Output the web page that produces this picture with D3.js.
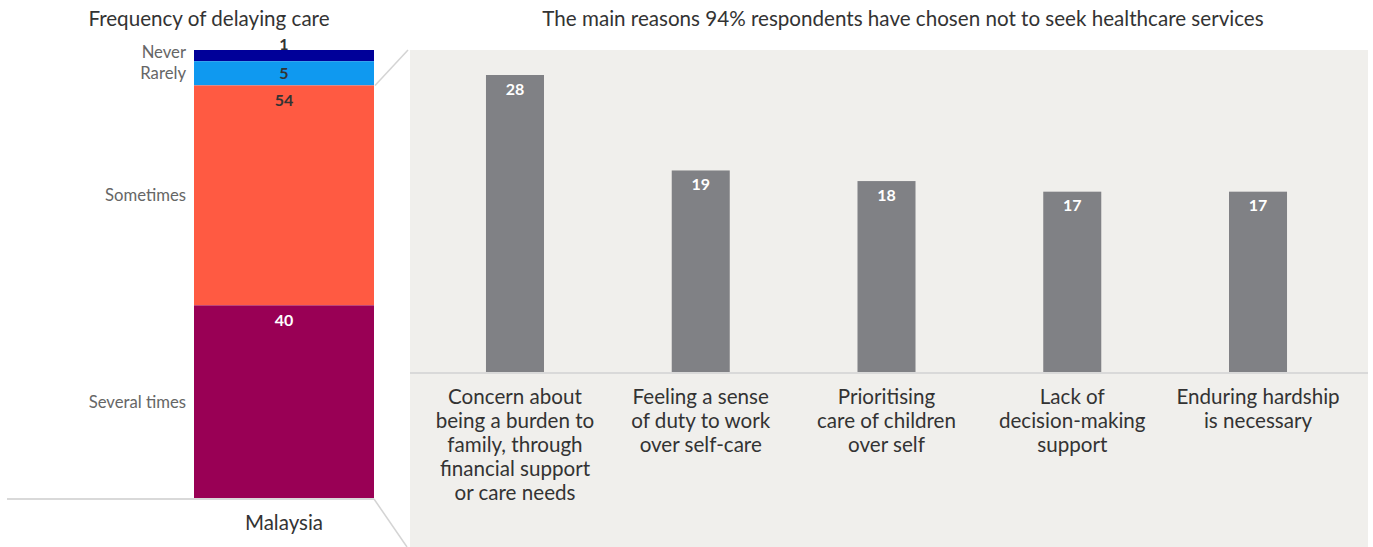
<!DOCTYPE html>
<html>
<head>
<meta charset="utf-8">
<script src="https://cdn.jsdelivr.net/npm/d3@7"></script>
<style>
  html, body { margin: 0; padding: 0; background: #ffffff; }
  svg { display: block; font-family: Lato, "Noto Sans", sans-serif; }
</style>
</head>
<body>
<svg id="chart" width="1373" height="547"></svg>
<script>
// ---- Data ----
const leftTitle = "Frequency of delaying care";
const rightTitle = "The main reasons 94% respondents have chosen not to seek healthcare services";
const countryLabel = "Malaysia";

const frequencyCategories = ["Never", "Rarely", "Sometimes", "Several times"];
const frequencyLabels = ["1", "5", "54", "40"];
// segment sizes as drawn in the picture (share of bar height, %)
const frequencyShares = [2.5, 5.4, 49.1, 43.0];
const frequencyColors = ["#000099", "#0f99f0", "#ff5a42", "#990055"];
const frequencyTextColors = ["#333333", "#333333", "#333333", "#ffffff"];

const reasonCategories = [
  ["Concern about", "being a burden to", "family, through", "financial support", "or care needs"],
  ["Feeling a sense", "of duty to work", "over self-care"],
  ["Prioritising", "care of children", "over self"],
  ["Lack of", "decision-making", "support"],
  ["Enduring hardship", "is necessary"]
];
const reasonValues = [28, 19, 18, 17, 17];

// ---- Drawing ----
const svg = d3.select("#chart");

// Right panel background
const panel = { x0: 410, x1: 1368, y0: 50, y1: 547 };
svg.append("rect")
  .attr("x", panel.x0).attr("y", panel.y0)
  .attr("width", panel.x1 - panel.x0).attr("height", panel.y1 - panel.y0)
  .attr("fill", "#f0efec");

// Titles
svg.append("text").attr("x", 209).attr("y", 26)
  .attr("text-anchor", "middle").attr("font-size", 20.6).attr("fill", "#333")
  .text(leftTitle);
svg.append("text").attr("x", 903).attr("y", 26)
  .attr("text-anchor", "middle").attr("font-size", 20.6).attr("fill", "#333")
  .text(rightTitle);

// ---- Left stacked bar ----
const barX0 = 194, barX1 = 374;
const yL = d3.scaleLinear().domain([0, 100]).range([50, 498]);
let cum = 0;
const segs = frequencyCategories.map((c, i) => {
  const s = { cat: c, label: frequencyLabels[i], start: cum, end: cum + frequencyShares[i], i };
  cum += frequencyShares[i];
  return s;
});

const gL = svg.append("g");
gL.selectAll("rect.seg").data(segs).join("rect")
  .attr("class", "seg")
  .attr("x", barX0).attr("width", barX1 - barX0)
  .attr("y", d => yL(d.start))
  .attr("height", d => yL(d.end) - yL(d.start))
  .attr("fill", d => frequencyColors[d.i]);

// Value labels
gL.selectAll("text.val").data(segs).join("text")
  .attr("class", "val")
  .attr("x", (barX0 + barX1) / 2)
  .attr("y", d => {
    const top = yL(d.start), h = yL(d.end) - yL(d.start);
    if (h < 15) return top - 6;
    if (h < 40) return top + h / 2;
    return top + 15;
  })
  .attr("dy", "0.35em")
  .attr("text-anchor", "middle")
  .attr("font-size", 16).attr("font-weight", 700)
  .attr("fill", d => frequencyTextColors[d.i])
  .text(d => d.label);

// Category labels (left)
gL.selectAll("text.cat").data(segs).join("text")
  .attr("class", "cat")
  .attr("x", 186)
  .attr("y", d => {
    const mid = (yL(d.start) + yL(d.end)) / 2;
    return d.i === 0 ? mid - 3 : mid;
  })
  .attr("dy", "0.35em")
  .attr("text-anchor", "end")
  .attr("font-size", 16.7)
  .attr("fill", "#666")
  .text(d => d.cat);

// Baseline + connectors
svg.append("line").attr("x1", 7).attr("x2", barX1).attr("y1", 499).attr("y2", 499)
  .attr("stroke", "#d9d9d9").attr("stroke-width", 2);
svg.append("line").attr("x1", barX1 + 1).attr("y1", yL(segs[2].start))
  .attr("x2", panel.x0 - 2).attr("y2", panel.y0)
  .attr("stroke", "#d4d4d4").attr("stroke-width", 1.5);
svg.append("line").attr("x1", barX1).attr("y1", 499)
  .attr("x2", panel.x0 - 3).attr("y2", 547)
  .attr("stroke", "#d4d4d4").attr("stroke-width", 1.5);

svg.append("text").attr("x", 284).attr("y", 523).attr("dy", "0.35em")
  .attr("text-anchor", "middle").attr("font-size", 20.5).attr("fill", "#333")
  .text(countryLabel);

// ---- Right bar chart ----
const xR = d3.scaleBand()
  .domain(d3.range(reasonValues.length))
  .range([410, 1363])
  .paddingInner(0.6877)
  .paddingOuter(0.409);
const yR = d3.scaleLinear().domain([0, 28]).range([372, 75]);

const gR = svg.append("g");
gR.selectAll("rect.bar").data(reasonValues).join("rect")
  .attr("class", "bar")
  .attr("x", (d, i) => xR(i))
  .attr("width", xR.bandwidth())
  .attr("y", d => yR(d))
  .attr("height", d => yR(0) - yR(d))
  .attr("fill", "#808185");

gR.selectAll("text.val").data(reasonValues).join("text")
  .attr("class", "val")
  .attr("x", (d, i) => xR(i) + xR.bandwidth() / 2)
  .attr("y", d => yR(d) + 14)
  .attr("dy", "0.35em")
  .attr("text-anchor", "middle")
  .attr("font-size", 16).attr("font-weight", 700)
  .attr("fill", "#ffffff")
  .text(d => d);

// baseline
svg.append("line").attr("x1", panel.x0).attr("x2", panel.x1)
  .attr("y1", yR(0) + 1).attr("y2", yR(0) + 1)
  .attr("stroke", "#d9d9d9").attr("stroke-width", 2);

// category labels
reasonCategories.forEach((lines, i) => {
  const t = gR.append("text")
    .attr("x", xR(i) + xR.bandwidth() / 2)
    .attr("y", 397)
    .attr("text-anchor", "middle")
    .attr("font-size", 20.6).attr("fill", "#333");
  lines.forEach((ln, j) => {
    t.append("tspan")
      .attr("x", xR(i) + xR.bandwidth() / 2)
      .attr("y", 397 + j * 24)
      .attr("dy", "0.35em")
      .text(ln);
  });
});
</script>
</body>
</html>
